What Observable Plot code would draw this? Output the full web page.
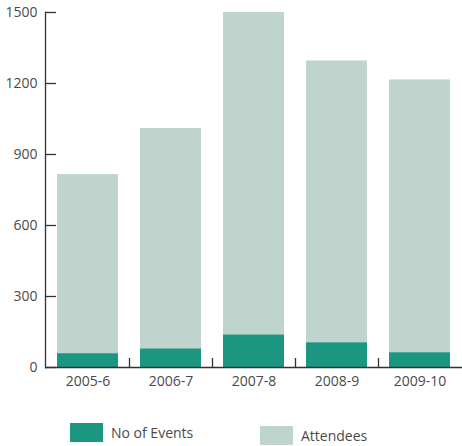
<!DOCTYPE html>
<html>
<head>
<meta charset="utf-8">
<script src="https://cdn.jsdelivr.net/npm/d3@7"></script>
<script src="https://cdn.jsdelivr.net/npm/@observablehq/plot@0.6"></script>
<style>
  body { margin: 0; background: #fff; font-family: "Open Sans", sans-serif; }
  #chart svg { display: block; }
  .legend { position: relative; width: 462px; height: 46px; color: #4a4a4a; font-size: 14px; }
  .legend .item { position: absolute; display: flex; align-items: center; }
  .legend .sw { width: 33px; height: 19px; margin-right: 8px; }
</style>
</head>
<body>
<div id="chart"></div>
<div class="legend" id="legend"></div>
<script>
// Academic years
const years = ["2005-6", "2006-7", "2007-8", "2008-9", "2009-10"];
// Number of events held each year
const events = [58, 78, 137, 104, 62];
// Total attendees each year
const attendees = [815, 1010, 1500, 1295, 1215];
// Y-axis tick values
const yTicks = [0, 300, 600, 900, 1200, 1500];

const colorEvents = "#1b9680";
const colorAttendees = "#bed4cd";
const textColor = "#4a4a4a";
const axisColor = "#333";

const W = 462, H = 400, mL = 45, mR = 0, mT = 12, mB = 33;
const stub = 11; // length of the inward tick marks

const rows = years.map((y, i) => ({year: y, events: events[i], attendees: attendees[i]}));

function build(sepOffset) {
  return Plot.plot({
    width: W,
    height: H,
    marginTop: mT,
    marginBottom: mB,
    marginLeft: mL,
    marginRight: mR,
    style: {fontFamily: "Open Sans, sans-serif", fontSize: "14px", color: textColor, background: "#fff"},
    x: {domain: years, paddingInner: 0.27, paddingOuter: 0.135, label: null},
    y: {domain: [0, 1500], label: null},
    marks: [
      Plot.barY(rows, {x: "year", y: "attendees", fill: colorAttendees}),
      Plot.barY(rows, {x: "year", y: "events", fill: colorEvents}),
      // tick labels
      Plot.axisY({ticks: yTicks, tickSize: 0, tickPadding: 8, tickFormat: "d", fill: textColor, label: null}),
      Plot.axisX({tickSize: 0, tickPadding: 9, fill: textColor, label: null}),
      // short inward tick marks on the value axis
      Plot.tickY(yTicks, {y: d => d, stroke: axisColor, strokeWidth: 1.3, insetRight: W - mL - mR - stub}),
      // separators between year groups
      Plot.tickX(years.slice(1), {x: d => d, dx: sepOffset, stroke: axisColor, strokeWidth: 1.3, insetTop: H - mT - mB - 9}),
      Plot.frame({anchor: "left", stroke: axisColor, strokeWidth: 1.3}),
      Plot.ruleY([0], {stroke: axisColor, strokeWidth: 1.3})
    ]
  });
}

// first pass gives the band step; separators sit halfway between band centres
const probe = build(0);
const xs = probe.scale("x");
const chart = build(-xs.step / 2);
document.getElementById("chart").append(chart);

// legend below the chart
const legend = document.getElementById("legend");
[
  {label: "No of Events", color: colorEvents, left: 70, top: 23},
  {label: "Attendees", color: colorAttendees, left: 260, top: 26}
].forEach(d => {
  const item = document.createElement("div");
  item.className = "item";
  item.style.left = d.left + "px";
  item.style.top = d.top + "px";
  const sw = document.createElement("span");
  sw.className = "sw";
  sw.style.background = d.color;
  const tx = document.createElement("span");
  tx.textContent = d.label;
  item.append(sw, tx);
  legend.append(item);
});
</script>
</body>
</html>
